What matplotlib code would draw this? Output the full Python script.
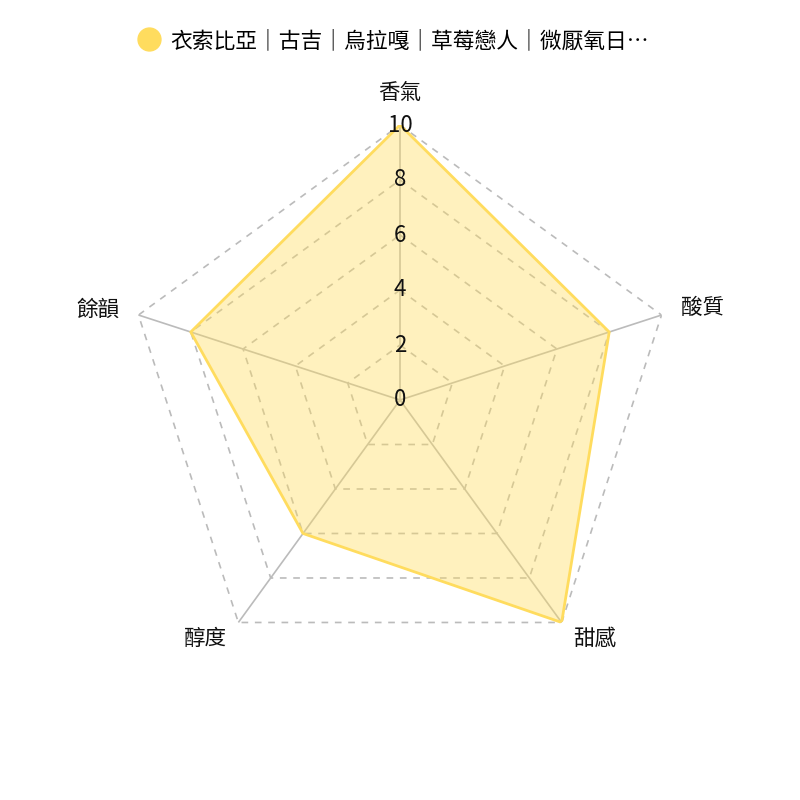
import numpy as np
import matplotlib
matplotlib.use("Agg")
import matplotlib.pyplot as plt
from matplotlib.lines import Line2D

plt.rcParams['font.family'] = ['Noto Sans CJK TC', 'DejaVu Sans']

# data
categories = ["香氣", "酸質", "甜感", "醇度", "餘韻"]
values = [10, 8, 10, 6, 8]
series_name = "衣索比亞｜古吉｜烏拉嘎｜草莓戀人｜微厭氧日…"
ticks = [0, 2, 4, 6, 8, 10]

line_color = "#FFDC5E"
grid_color = "#BBBBBB"

n = len(categories)
angles = np.linspace(0, 2 * np.pi, n, endpoint=False)

fig = plt.figure(figsize=(8, 8), dpi=100)
ax = fig.add_axes([125 / 800, 125 / 800, 550 / 800, 550 / 800], projection="polar")
ax.set_theta_offset(np.pi / 2)
ax.set_theta_direction(-1)
ax.set_ylim(0, 10)
ax.grid(False)
ax.spines["polar"].set_visible(False)
ax.set_xticks([])
ax.set_yticks([])
ax.patch.set_alpha(0)

closed = np.append(angles, angles[0])

# polygon grid
for t in ticks[1:]:
    ax.plot(closed, [t] * (n + 1), color=grid_color, lw=1.2, ls=(0, (4, 4)), zorder=1)
for a in angles:
    ax.plot([a, a], [0, 10], color=grid_color, lw=1.2, zorder=1)

# series
vals = np.append(values, values[0])
ax.fill(closed, vals, color=line_color, alpha=0.4, lw=0, zorder=2)
ax.plot(closed, vals, color=line_color, lw=2, zorder=3)

# radial tick labels
for t in ticks:
    ax.text(0, t, str(t), ha="center", va="center", fontsize=16, color="#111111", zorder=4)

# category labels
offsets = [(0, 23, "center"), (13.7, 5, "left"), (8, -12, "left"), (-8, -12, "right"), (-13.7, 4, "right")]
for a, lab, (dx, dy, ha) in zip(angles, categories, offsets):
    ax.annotate(lab, xy=(a, 10), xytext=(dx, dy), textcoords="offset points",
                ha=ha, va="center", fontsize=15.5, color="#111111", annotation_clip=False)

handle = Line2D([], [], marker="o", ls="none", markersize=16.5, color=line_color)
fig.legend([handle], [series_name], loc="center", bbox_to_anchor=(393.5 / 800, 1 - 41 / 800),
           frameon=False, fontsize=15.7, handletextpad=0.5, handlelength=1.0)

fig.savefig("out.png", dpi=100)
